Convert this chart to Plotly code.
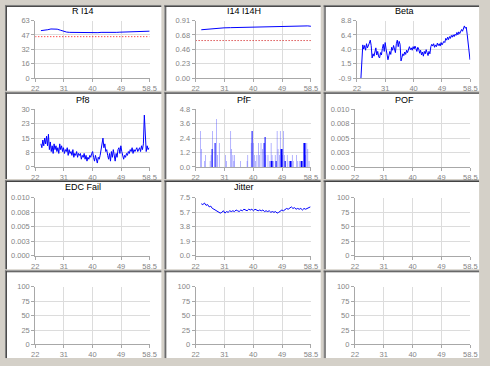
import plotly.graph_objects as go

W, H = 490, 366

# ---------------- data ----------------
x_tick_vals = [22, 31.125, 40.25, 49.375, 58.5]
x_tick_labels = ['22', '31', '40', '49', '58.5']

titles = ['R I14', 'I14 I14H', 'Beta', 'Pf8', 'PfF', 'POF',
          'EDC Fail', 'Jitter', '', '', '', '']
y_ranges = [[0, 63], [0, 0.91], [-0.9, 8.8], [0, 30], [0, 4.8], [0, 0.01],
            [0, 0.01], [0, 7.5], [0, 100], [0, 100], [0, 100], [0, 100]]
y_tick_labels = [
    ['0', '16', '32', '47', '63'],
    ['0.00', '0.23', '0.46', '0.68', '0.91'],
    ['-0.9', '1.5', '4.0', '6.4', '8.8'],
    ['0', '8', '15', '23', '30'],
    ['0.0', '1.2', '2.4', '3.6', '4.8'],
    ['0.000', '0.003', '0.005', '0.008', '0.010'],
    ['0.000', '0.003', '0.005', '0.008', '0.010'],
    ['0.0', '1.9', '3.8', '5.7', '7.5'],
    ['0', '25', '50', '75', '100'],
    ['0', '25', '50', '75', '100'],
    ['0', '25', '50', '75', '100'],
    ['0', '25', '50', '75', '100'],
]

ri14_x = [23.8, 24.5, 25, 26, 27, 28, 29, 30, 31, 32, 33, 34, 35, 36, 37, 38, 39, 40,
          41, 42, 43, 44, 45, 46, 47, 48, 49, 50, 51, 52, 53, 54, 55, 56, 57, 58, 58.5]
ri14_y = [52.0, 52.2, 52.3, 53.0, 53.8, 54.0, 53.6, 52.5, 51.2, 50.4, 50.1, 50.0, 50.0,
          49.9, 50.0, 49.8, 49.6, 49.5, 49.2, 49.8, 50.1, 50.0, 50.2, 50.3, 50.2, 50.1,
          50.3, 50.4, 50.2, 50.5, 50.4, 50.6, 50.5, 50.8, 51.2, 51.5, 51.4]
ri14_limit = 45.4

i14_x = [23.8, 25, 27, 29, 31, 33, 35, 37, 39, 41, 43, 45, 47, 49, 51, 53, 55, 56.5, 57.5, 58.5]
i14_y = [0.765, 0.772, 0.780, 0.788, 0.795, 0.798, 0.801, 0.803, 0.805, 0.806, 0.807,
         0.808, 0.810, 0.812, 0.814, 0.818, 0.822, 0.830, 0.826, 0.820]
i14_limit = 0.594

beta_start, beta_step = 23.3, 0.3
beta_y = [-0.9, 2.0, 4.7, 4.0, 4.6, 3.8, 4.9, 4.2, 4.5, 5.0, 5.5, 4.6, 2.5, 3.2, 2.8, 3.9,
          4.2, 3.0, 3.6, 2.7, 2.5, 3.4, 3.0, 4.1, 4.8, 3.6, 5.1, 4.0, 3.2, 2.2, 2.9, 3.6,
          3.1, 4.3, 3.8, 4.6, 4.0, 3.4, 4.9, 5.5, 4.4, 5.3, 4.8, 2.0, 2.6, 3.2, 2.9, 3.5,
          3.1, 3.8, 3.4, 3.9, 4.4, 3.9, 4.2, 3.8, 4.4, 4.0, 4.5, 4.1, 3.6, 4.3, 4.0, 3.3,
          3.8, 3.0, 3.5, 2.8, 3.6, 3.2, 3.9, 3.4, 2.9, 3.6, 3.2, 4.4, 4.8, 4.5, 4.9, 4.3,
          4.7, 4.4, 5.0, 4.6, 4.9, 4.5, 5.1, 4.7, 5.0, 5.3, 5.1, 5.8, 5.5, 6.0, 5.6, 6.1,
          5.8, 6.3, 6.0, 6.4, 6.1, 6.5, 6.3, 6.8, 6.4, 6.9, 6.6, 7.1, 7.3, 7.0, 7.6, 7.9,
          7.5, 7.7, 6.5, 5.0, 4.2, 2.2]

pf8_start, pf8_step = 23.8, 0.3
pf8_y = [12, 10, 14, 11, 15, 12, 16, 11, 17, 9, 13, 8, 11, 7, 12, 9, 11, 8, 10, 7, 12, 9,
         11, 8, 10, 7, 9, 8, 10, 6, 9, 7, 8, 6, 9, 5, 7, 6, 8, 5, 7, 6, 7, 4, 6, 5, 7, 4,
         6, 3, 5, 4, 6, 5, 7, 8, 5, 3, 6, 4, 2, 5, 4, 6, 9, 11, 15, 10, 12, 8, 9, 6, 4, 7,
         3, 8, 5, 9, 4, 3, 7, 5, 9, 10, 7, 11, 8, 5, 4, 6, 5, 7, 6, 8, 7, 9, 8, 10, 7, 9,
         8, 9, 10, 8, 9, 10, 8, 11, 9, 12, 27, 14, 8, 11, 9, 10]

pff_x = [23.6, 23.9, 24.8, 25.1, 26.6, 26.9, 27.4, 28.6, 28.9, 29.5, 31.5, 31.8, 33.1,
         33.4, 33.8, 34.1, 34.3, 36.2, 38.3, 38.5, 39.6, 40.3, 40.6, 41.0, 41.4, 41.9,
         42.2, 42.7, 43.2, 44.2, 44.9, 45.4, 45.9, 46.2, 46.7, 47.2, 47.8, 48.1, 48.5,
         48.8, 49.5, 49.8, 50.1, 50.5, 51.0, 51.6, 52.6, 52.9, 53.9, 54.3, 54.8, 56.2,
         56.8, 57.2, 57.5, 57.9]
pff_y = [3.0, 1.5, 0.5, 1.0, 0.5, 1.0, 3.0, 4.0, 1.0, 2.0, 1.0, 0.5, 3.0, 1.5, 1.0, 0.5,
         1.0, 0.5, 0.5, 1.0, 2.0, 2.0, 1.0, 0.5, 1.0, 2.0, 1.0, 2.0, 1.5, 1.0, 1.0, 0.5,
         2.0, 1.0, 0.5, 1.0, 3.0, 1.5, 1.0, 3.0, 1.0, 3.0, 1.0, 0.5, 1.0, 0.5, 1.0, 0.5,
         1.0, 0.5, 0.5, 2.0, 1.0, 2.0, 1.5, 0.5]
pff_dark_x = [27.2, 28.2, 39.9, 43.7, 44.0, 46.0, 47.5, 49.1, 50.3, 52.0, 55.5, 56.5]
pff_dark_y = [1.5, 2.0, 3.0, 2.0, 2.5, 0.5, 0.5, 1.5, 0.5, 0.5, 0.5, 2.0]

jit_start, jit_step = 23.8, 0.5
jit_y = [6.7, 6.6, 6.8, 6.5, 6.6, 6.3, 6.4, 6.1, 6.0, 5.9, 5.7, 5.6, 5.5, 5.6, 5.8, 5.5,
         5.7, 5.6, 5.8, 5.7, 5.8, 5.7, 5.9, 5.8, 5.7, 5.9, 5.8, 6.0, 5.9, 5.8, 6.0, 5.9,
         6.0, 5.8, 6.0, 5.9, 5.8, 5.9, 5.8, 5.9, 5.7, 5.8, 5.7, 5.8, 5.6, 5.7, 5.6, 5.7,
         5.5, 5.6, 5.7, 5.9, 5.8, 6.0, 6.1, 6.0, 6.2, 6.3, 6.1, 6.2, 6.0, 6.1, 6.0, 6.1,
         5.9, 6.1, 6.0, 6.1, 6.2, 6.3]

# ---------------- layout geometry (pixels) ----------------
col_plot = [(32, 149), (196, 314), (359, 477)]
row_plot = [(17, 76), (108, 167), (198.5, 258), (290, 349)]
col_panel = [(1, 161), (164, 324), (327, 486)]
row_panel = [(1, 89), (90, 179.5), (180.5, 272), (273, 363)]
title_cx = [81, 246, 410]
title_cy = [7, 98, 188]

def px(x):
    return x / W

def py(y):
    return 1 - y / H

fig = go.Figure()
layout = dict(width=W, height=H, margin=dict(l=0, r=0, t=0, b=0, pad=0),
              paper_bgcolor='#d4d0c8', plot_bgcolor='#ffffff', showlegend=False,
              font=dict(family='Liberation Sans, Arial, sans-serif', size=8, color='#808080'))
shapes = []
annotations = []

for i in range(12):
    r, c = divmod(i, 3)
    x0, x1 = col_plot[c]
    if i == 2:
        x0 = 361
    y0, y1 = row_plot[r]
    sfx = '' if i == 0 else str(i + 1)
    lo, hi = y_ranges[i]
    yt = [lo + (hi - lo) * k / 4 for k in range(5)]
    axcommon = dict(showgrid=True, gridcolor='#dcdcdc', gridwidth=1, zeroline=False,
                    showline=True, linecolor='#a8a8a8', linewidth=1,
                    ticks='outside', ticklen=3, tickcolor='#a8a8a8',
                    tickfont=dict(size=7.5, color='#858585'), fixedrange=True)
    layout['xaxis' + sfx] = dict(axcommon, domain=[px(x0), px(x1)], anchor='y' + sfx,
                                 range=[22, 58.5], tickmode='array',
                                 tickvals=x_tick_vals, ticktext=x_tick_labels)
    layout['yaxis' + sfx] = dict(axcommon, domain=[py(y1), py(y0)], anchor='x' + sfx,
                                 range=[lo, hi], tickmode='array', tickvals=yt,
                                 ticktext=y_tick_labels[i])
    # top and right grid edges
    shapes.append(dict(type='line', xref='x' + sfx + ' domain', yref='y' + sfx + ' domain',
                       x0=0, x1=1, y0=1, y1=1, line=dict(color='#dcdcdc', width=1), layer='below'))
    shapes.append(dict(type='line', xref='x' + sfx + ' domain', yref='y' + sfx + ' domain',
                       x0=1, x1=1, y0=0, y1=1, line=dict(color='#dcdcdc', width=1), layer='below'))
    # empty placeholder so every subplot is drawn
    fig.add_trace(go.Scatter(x=[None], y=[None], mode='lines', xaxis='x' + sfx, yaxis='y' + sfx,
                             hoverinfo='skip'))
    if titles[i]:
        annotations.append(dict(text=titles[i], x=px(title_cx[c]), y=py(title_cy[r]),
                                xref='paper', yref='paper', showarrow=False,
                                xanchor='center', yanchor='middle',
                                font=dict(size=9, color='#000000')))

# panels
for r in range(4):
    for c in range(3):
        a0, a1 = col_panel[c]
        b0, b1 = row_panel[r]
        shapes.append(dict(type='rect', xref='paper', yref='paper', x0=px(a0), x1=px(a1),
                           y0=py(b1), y1=py(b0), fillcolor='#ffffff', line=dict(width=0),
                           layer='below'))
        shapes.append(dict(type='line', xref='paper', yref='paper', x0=px(a0), x1=px(a1),
                           y0=py(b0 + 0.5), y1=py(b0 + 0.5), line=dict(color='#808080', width=1),
                           layer='below'))
        shapes.append(dict(type='line', xref='paper', yref='paper', x0=px(a0), x1=px(a1),
                           y0=py(b0 + 1.5), y1=py(b0 + 1.5), line=dict(color='#404040', width=1),
                           layer='below'))
        shapes.append(dict(type='line', xref='paper', yref='paper', x0=px(a0 + 0.5), x1=px(a0 + 0.5),
                           y0=py(b1), y1=py(b0), line=dict(color='#808080', width=1),
                           layer='below'))
        shapes.append(dict(type='line', xref='paper', yref='paper', x0=px(a0 + 1.5), x1=px(a0 + 1.5),
                           y0=py(b1), y1=py(b0 + 1), line=dict(color='#404040', width=1),
                           layer='below'))

blue = '#0000ff'
# R I14
fig.add_trace(go.Scatter(x=ri14_x, y=ri14_y, mode='lines', line=dict(color=blue, width=1),
                         xaxis='x', yaxis='y'))
fig.add_trace(go.Scatter(x=[22, 58.5], y=[ri14_limit, ri14_limit], mode='lines',
                         line=dict(color='#ff0000', width=1, dash='1px,2px'), xaxis='x', yaxis='y'))
# I14 I14H
fig.add_trace(go.Scatter(x=i14_x, y=i14_y, mode='lines', line=dict(color=blue, width=1),
                         xaxis='x2', yaxis='y2'))
fig.add_trace(go.Scatter(x=[22, 58.5], y=[i14_limit, i14_limit], mode='lines',
                         line=dict(color='#cc0000', width=1, dash='1px,2px'), xaxis='x2', yaxis='y2'))
# Beta
fig.add_trace(go.Scatter(x=[beta_start + k * beta_step for k in range(len(beta_y))], y=beta_y,
                         mode='lines', line=dict(color=blue, width=1), xaxis='x3', yaxis='y3'))
# Pf8
fig.add_trace(go.Scatter(x=[pf8_start + k * pf8_step for k in range(len(pf8_y))], y=pf8_y,
                         mode='lines', line=dict(color=blue, width=1), xaxis='x4', yaxis='y4'))
# PfF
fig.add_trace(go.Bar(x=pff_x, y=pff_y, width=0.22, marker=dict(color='rgba(60,60,255,0.55)', line=dict(width=0)),
                     xaxis='x5', yaxis='y5'))
fig.add_trace(go.Bar(x=pff_dark_x, y=pff_dark_y, width=0.25, marker=dict(color='#0000ff', line=dict(width=0)),
                     xaxis='x5', yaxis='y5'))
# Jitter
fig.add_trace(go.Scatter(x=[jit_start + k * jit_step for k in range(len(jit_y))], y=jit_y,
                         mode='lines', line=dict(color=blue, width=1), xaxis='x8', yaxis='y8'))

layout['barmode'] = 'overlay'
layout['shapes'] = shapes
layout['annotations'] = annotations
fig.update_layout(layout)
fig.write_html('out.html', config={'displayModeBar': False},
               post_script="document.body.style.margin='0';")
